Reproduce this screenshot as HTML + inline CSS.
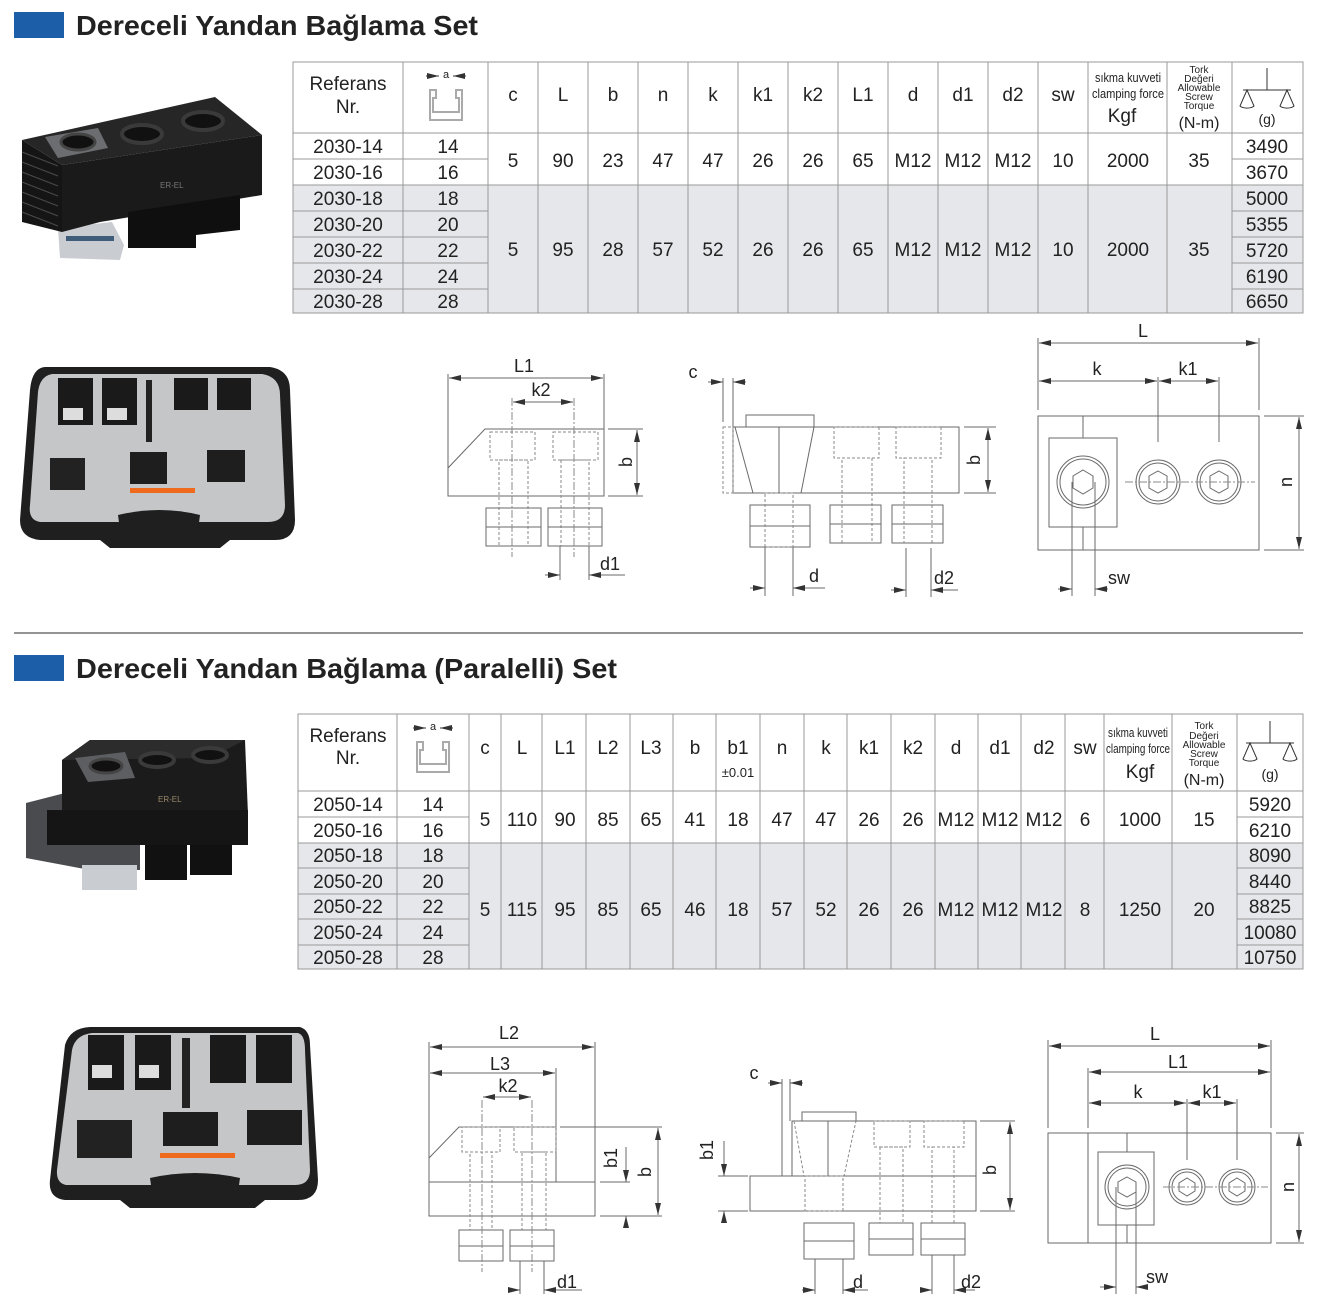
<!DOCTYPE html>
<html><head><meta charset="utf-8"><style>
html,body{margin:0;padding:0;background:#fff;}
svg{display:block;}
text{font-family:"Liberation Sans",Arial,sans-serif;fill:#222;}
.t{font-size:19px;text-anchor:middle;}
.h{font-size:19px;text-anchor:middle;}
.s{font-size:11px;text-anchor:middle;}
.dl{font-size:18px;text-anchor:middle;}
.g line,.g rect,.g polyline,.g polygon,.g circle,.g path{stroke:#6a6a6a;stroke-width:1;fill:none;}
.g .d{stroke-dasharray:3,2;stroke:#8a8a8a;}
.g .c{stroke-dasharray:8,2,2,2;stroke:#8a8a8a;}
</style></head><body>
<svg width="1322" height="1304" viewBox="0 0 1322 1304" xmlns="http://www.w3.org/2000/svg">
<defs>
<marker id="a" viewBox="0 0 12 6" refX="12" refY="3" markerWidth="12" markerHeight="6" orient="auto-start-reverse" markerUnits="userSpaceOnUse"><path d="M0,0L12,3L0,6z" fill="#333"/></marker>
</defs>

<!-- Titles -->
<rect x="14" y="12" width="50" height="26" fill="#1c5fa8"/>
<text x="76" y="35" font-size="28" font-weight="bold" textLength="402" lengthAdjust="spacingAndGlyphs">Dereceli Yandan Bağlama Set</text>
<line x1="14" y1="633" x2="1303" y2="633" stroke="#555" stroke-width="1.2"/>
<rect x="14" y="655" width="50" height="26" fill="#1c5fa8"/>
<text x="76" y="678" font-size="28" font-weight="bold" textLength="541" lengthAdjust="spacingAndGlyphs">Dereceli Yandan Bağlama (Paralelli) Set</text>

<!-- TABLE 1 -->
<rect x="293" y="185" width="1010" height="128" fill="#e6e7eb"/>
<g stroke="#999" stroke-width="1">
<rect x="293" y="62" width="1010" height="251" fill="none"/>
<line x1="293" y1="133" x2="1303" y2="133"/>
<line x1="293" y1="185" x2="1303" y2="185"/>
<line x1="293" y1="159" x2="488" y2="159"/><line x1="1232" y1="159" x2="1303" y2="159"/>
<line x1="293" y1="211" x2="488" y2="211"/><line x1="1232" y1="211" x2="1303" y2="211"/>
<line x1="293" y1="237" x2="488" y2="237"/><line x1="1232" y1="237" x2="1303" y2="237"/>
<line x1="293" y1="263" x2="488" y2="263"/><line x1="1232" y1="263" x2="1303" y2="263"/>
<line x1="293" y1="289" x2="488" y2="289"/><line x1="1232" y1="289" x2="1303" y2="289"/>
<line x1="403" y1="62" x2="403" y2="313"/><line x1="488" y1="62" x2="488" y2="313"/>
<line x1="538" y1="62" x2="538" y2="313"/><line x1="588" y1="62" x2="588" y2="313"/>
<line x1="638" y1="62" x2="638" y2="313"/><line x1="688" y1="62" x2="688" y2="313"/>
<line x1="738" y1="62" x2="738" y2="313"/><line x1="788" y1="62" x2="788" y2="313"/>
<line x1="838" y1="62" x2="838" y2="313"/><line x1="888" y1="62" x2="888" y2="313"/>
<line x1="938" y1="62" x2="938" y2="313"/><line x1="988" y1="62" x2="988" y2="313"/>
<line x1="1038" y1="62" x2="1038" y2="313"/><line x1="1088" y1="62" x2="1088" y2="313"/>
<line x1="1167" y1="62" x2="1167" y2="313"/><line x1="1232" y1="62" x2="1232" y2="313"/>
</g>
<text class="h" x="348" y="90">Referans</text><text class="h" x="348" y="113">Nr.</text>
<g transform="translate(446,70)">
<text class="s" x="0" y="8">a</text>
<line x1="-20" y1="6" x2="-7" y2="6" stroke="#333" marker-end="url(#a)"/><line x1="20" y1="6" x2="7" y2="6" stroke="#333" marker-end="url(#a)"/>
<path d="M-16,20 h6 v8 h-3 v14 h26 v-14 h-3 v-8 h6 v30 h-32 z" fill="none" stroke="#aaa" stroke-width="2"/>
</g>
<text class="h" x="513" y="101">c</text><text class="h" x="563" y="101">L</text><text class="h" x="613" y="101">b</text>
<text class="h" x="663" y="101">n</text><text class="h" x="713" y="101">k</text><text class="h" x="763" y="101">k1</text>
<text class="h" x="813" y="101">k2</text><text class="h" x="863" y="101">L1</text><text class="h" x="913" y="101">d</text>
<text class="h" x="963" y="101">d1</text><text class="h" x="1013" y="101">d2</text><text class="h" x="1063" y="101">sw</text>
<text x="1128" y="82" font-size="13" text-anchor="middle" textLength="66" lengthAdjust="spacingAndGlyphs">sıkma kuvveti</text>
<text x="1128" y="98" font-size="13" text-anchor="middle" textLength="72" lengthAdjust="spacingAndGlyphs">clamping force</text>
<text class="h" x="1122" y="122">Kgf</text>
<text x="1199" y="73" font-size="10" text-anchor="middle">Tork</text>
<text x="1199" y="82" font-size="10" text-anchor="middle">Değeri</text>
<text x="1199" y="91" font-size="10" text-anchor="middle">Allowable</text>
<text x="1199" y="100" font-size="10" text-anchor="middle">Screw</text>
<text x="1199" y="109" font-size="10" text-anchor="middle">Torque</text>
<text x="1199" y="128" font-size="16" text-anchor="middle">(N-m)</text>
<g transform="translate(1267,68)" stroke="#333" fill="none" stroke-width="1">
<line x1="0" y1="0" x2="0" y2="22"/><line x1="-24" y1="22" x2="24" y2="22"/>
<path d="M-20,22 L-27,38 A8,4 0 0,0 -13,38 Z M20,22 L13,38 A8,4 0 0,0 27,38 Z"/>
<text x="0" y="56" font-size="14" text-anchor="middle" stroke="none" fill="#222">(g)</text>
</g>
<text class="t" x="348" y="153">2030-14</text><text class="t" x="448" y="153">14</text>
<text class="t" x="348" y="179">2030-16</text><text class="t" x="448" y="179">16</text>
<text class="t" x="348" y="205">2030-18</text><text class="t" x="448" y="205">18</text>
<text class="t" x="348" y="231">2030-20</text><text class="t" x="448" y="231">20</text>
<text class="t" x="348" y="257">2030-22</text><text class="t" x="448" y="257">22</text>
<text class="t" x="348" y="283">2030-24</text><text class="t" x="448" y="283">24</text>
<text class="t" x="348" y="308">2030-28</text><text class="t" x="448" y="308">28</text>
<text class="t" x="1267" y="153">3490</text><text class="t" x="1267" y="179">3670</text>
<text class="t" x="1267" y="205">5000</text><text class="t" x="1267" y="231">5355</text>
<text class="t" x="1267" y="257">5720</text><text class="t" x="1267" y="283">6190</text>
<text class="t" x="1267" y="308">6650</text>
<text class="t" x="513" y="167">5</text><text class="t" x="563" y="167">90</text><text class="t" x="613" y="167">23</text>
<text class="t" x="663" y="167">47</text><text class="t" x="713" y="167">47</text><text class="t" x="763" y="167">26</text>
<text class="t" x="813" y="167">26</text><text class="t" x="863" y="167">65</text><text class="t" x="913" y="167">M12</text>
<text class="t" x="963" y="167">M12</text><text class="t" x="1013" y="167">M12</text><text class="t" x="1063" y="167">10</text>
<text class="t" x="1128" y="167">2000</text><text class="t" x="1199" y="167">35</text>
<text class="t" x="513" y="256">5</text><text class="t" x="563" y="256">95</text><text class="t" x="613" y="256">28</text>
<text class="t" x="663" y="256">57</text><text class="t" x="713" y="256">52</text><text class="t" x="763" y="256">26</text>
<text class="t" x="813" y="256">26</text><text class="t" x="863" y="256">65</text><text class="t" x="913" y="256">M12</text>
<text class="t" x="963" y="256">M12</text><text class="t" x="1013" y="256">M12</text><text class="t" x="1063" y="256">10</text>
<text class="t" x="1128" y="256">2000</text><text class="t" x="1199" y="256">35</text>

<!-- TABLE 2 -->
<rect x="298" y="843" width="1005" height="126" fill="#e6e7eb"/>
<g stroke="#999" stroke-width="1">
<rect x="298" y="714" width="1005" height="255" fill="none"/>
<line x1="298" y1="791" x2="1303" y2="791"/><line x1="298" y1="843" x2="1303" y2="843"/>
<line x1="298" y1="817" x2="469" y2="817"/><line x1="1237" y1="817" x2="1303" y2="817"/>
<line x1="298" y1="868" x2="469" y2="868"/><line x1="1237" y1="868" x2="1303" y2="868"/>
<line x1="298" y1="894" x2="469" y2="894"/><line x1="1237" y1="894" x2="1303" y2="894"/>
<line x1="298" y1="919" x2="469" y2="919"/><line x1="1237" y1="919" x2="1303" y2="919"/>
<line x1="298" y1="945" x2="469" y2="945"/><line x1="1237" y1="945" x2="1303" y2="945"/>
<line x1="397" y1="714" x2="397" y2="969"/><line x1="469" y1="714" x2="469" y2="969"/>
<line x1="501" y1="714" x2="501" y2="969"/><line x1="542" y1="714" x2="542" y2="969"/>
<line x1="586" y1="714" x2="586" y2="969"/><line x1="630" y1="714" x2="630" y2="969"/>
<line x1="673" y1="714" x2="673" y2="969"/><line x1="716" y1="714" x2="716" y2="969"/>
<line x1="760" y1="714" x2="760" y2="969"/><line x1="804" y1="714" x2="804" y2="969"/>
<line x1="847" y1="714" x2="847" y2="969"/><line x1="891" y1="714" x2="891" y2="969"/>
<line x1="935" y1="714" x2="935" y2="969"/><line x1="978" y1="714" x2="978" y2="969"/>
<line x1="1021" y1="714" x2="1021" y2="969"/><line x1="1065" y1="714" x2="1065" y2="969"/>
<line x1="1104" y1="714" x2="1104" y2="969"/><line x1="1172" y1="714" x2="1172" y2="969"/>
<line x1="1237" y1="714" x2="1237" y2="969"/>
</g>
<text class="h" x="348" y="742">Referans</text><text class="h" x="348" y="764">Nr.</text>
<g transform="translate(433,722)">
<text class="s" x="0" y="8">a</text>
<line x1="-20" y1="6" x2="-7" y2="6" stroke="#333" marker-end="url(#a)"/><line x1="20" y1="6" x2="7" y2="6" stroke="#333" marker-end="url(#a)"/>
<path d="M-16,20 h6 v8 h-3 v14 h26 v-14 h-3 v-8 h6 v30 h-32 z" fill="none" stroke="#aaa" stroke-width="2"/>
</g>
<text class="h" x="485" y="754">c</text><text class="h" x="522" y="754">L</text><text class="h" x="565" y="754">L1</text>
<text class="h" x="608" y="754">L2</text><text class="h" x="651" y="754">L3</text><text class="h" x="695" y="754">b</text>
<text class="h" x="738" y="754">b1</text><text x="738" y="777" font-size="13" text-anchor="middle">±0.01</text>
<text class="h" x="782" y="754">n</text><text class="h" x="826" y="754">k</text><text class="h" x="869" y="754">k1</text>
<text class="h" x="913" y="754">k2</text><text class="h" x="956" y="754">d</text><text class="h" x="1000" y="754">d1</text>
<text class="h" x="1044" y="754">d2</text><text class="h" x="1085" y="754">sw</text>
<text x="1138" y="737" font-size="13" text-anchor="middle" textLength="60" lengthAdjust="spacingAndGlyphs">sıkma kuvveti</text>
<text x="1138" y="753" font-size="13" text-anchor="middle" textLength="64" lengthAdjust="spacingAndGlyphs">clamping force</text>
<text class="h" x="1140" y="778">Kgf</text>
<text x="1204" y="729" font-size="10" text-anchor="middle">Tork</text>
<text x="1204" y="739" font-size="10" text-anchor="middle">Değeri</text>
<text x="1204" y="748" font-size="10" text-anchor="middle">Allowable</text>
<text x="1204" y="757" font-size="10" text-anchor="middle">Screw</text>
<text x="1204" y="766" font-size="10" text-anchor="middle">Torque</text>
<text x="1204" y="785" font-size="16" text-anchor="middle">(N-m)</text>
<g transform="translate(1270,721)" stroke="#333" fill="none" stroke-width="1">
<line x1="0" y1="0" x2="0" y2="22"/><line x1="-24" y1="22" x2="24" y2="22"/>
<path d="M-20,22 L-27,38 A8,4 0 0,0 -13,38 Z M20,22 L13,38 A8,4 0 0,0 27,38 Z"/>
<text x="0" y="58" font-size="14" text-anchor="middle" stroke="none" fill="#222">(g)</text>
</g>
<text class="t" x="348" y="811">2050-14</text><text class="t" x="433" y="811">14</text>
<text class="t" x="348" y="837">2050-16</text><text class="t" x="433" y="837">16</text>
<text class="t" x="348" y="862">2050-18</text><text class="t" x="433" y="862">18</text>
<text class="t" x="348" y="888">2050-20</text><text class="t" x="433" y="888">20</text>
<text class="t" x="348" y="913">2050-22</text><text class="t" x="433" y="913">22</text>
<text class="t" x="348" y="939">2050-24</text><text class="t" x="433" y="939">24</text>
<text class="t" x="348" y="964">2050-28</text><text class="t" x="433" y="964">28</text>
<text class="t" x="1270" y="811">5920</text><text class="t" x="1270" y="837">6210</text>
<text class="t" x="1270" y="862">8090</text><text class="t" x="1270" y="888">8440</text>
<text class="t" x="1270" y="913">8825</text><text class="t" x="1270" y="939">10080</text>
<text class="t" x="1270" y="964">10750</text>
<text class="t" x="485" y="826">5</text><text class="t" x="522" y="826">110</text><text class="t" x="565" y="826">90</text>
<text class="t" x="608" y="826">85</text><text class="t" x="651" y="826">65</text><text class="t" x="695" y="826">41</text>
<text class="t" x="738" y="826">18</text><text class="t" x="782" y="826">47</text><text class="t" x="826" y="826">47</text>
<text class="t" x="869" y="826">26</text><text class="t" x="913" y="826">26</text><text class="t" x="956" y="826">M12</text>
<text class="t" x="1000" y="826">M12</text><text class="t" x="1044" y="826">M12</text><text class="t" x="1085" y="826">6</text>
<text class="t" x="1140" y="826">1000</text><text class="t" x="1204" y="826">15</text>
<text class="t" x="485" y="916">5</text><text class="t" x="522" y="916">115</text><text class="t" x="565" y="916">95</text>
<text class="t" x="608" y="916">85</text><text class="t" x="651" y="916">65</text><text class="t" x="695" y="916">46</text>
<text class="t" x="738" y="916">18</text><text class="t" x="782" y="916">57</text><text class="t" x="826" y="916">52</text>
<text class="t" x="869" y="916">26</text><text class="t" x="913" y="916">26</text><text class="t" x="956" y="916">M12</text>
<text class="t" x="1000" y="916">M12</text><text class="t" x="1044" y="916">M12</text><text class="t" x="1085" y="916">8</text>
<text class="t" x="1140" y="916">1250</text><text class="t" x="1204" y="916">20</text>

<!-- PHOTO 1 product -->
<g>
<polygon points="58,228 112,222 124,245 120,260 60,258" fill="#c9ccd1"/>
<rect x="66" y="236" width="48" height="5" fill="#3f5d7a"/>
<polygon points="22,140 215,97 262,135 62,165" fill="#262626"/>
<polygon points="22,140 62,165 62,232 22,222" fill="#151515"/>
<g stroke="#4a4a4a" stroke-width="1"><line x1="22" y1="152" x2="58" y2="166"/><line x1="22" y1="162" x2="58" y2="176"/><line x1="22" y1="172" x2="58" y2="186"/><line x1="22" y1="182" x2="58" y2="196"/><line x1="22" y1="192" x2="58" y2="206"/><line x1="22" y1="202" x2="58" y2="216"/><line x1="22" y1="212" x2="58" y2="226"/></g>
<polygon points="62,165 262,135 262,195 100,222 62,232" fill="#1a1a1a"/>
<polygon points="128,212 240,195 240,230 196,235 196,248 128,248" fill="#0f0f0f"/>
<polygon points="45,137 98,128 108,148 58,158" fill="#6b6d70"/>
<ellipse cx="78" cy="142" rx="17" ry="8" fill="#111" stroke="#444" stroke-width="3"/>
<ellipse cx="142" cy="134" rx="20" ry="9" fill="#111" stroke="#3a3a3a" stroke-width="4"/>
<ellipse cx="203" cy="121" rx="20" ry="9" fill="#111" stroke="#3a3a3a" stroke-width="4"/>
<text x="160" y="188" font-size="8" style="fill:#777">ER-EL</text>
</g>
<!-- CASE 1 -->
<g>
<path d="M45,367 L270,367 Q290,370 290,390 L295,520 Q295,540 275,540 L230,540 L220,548 L110,548 L100,540 L40,540 Q20,538 20,520 L30,390 Q32,368 45,367 Z" fill="#1f1f1f"/>
<path d="M52,374 L262,374 Q280,377 280,395 L285,505 Q285,522 268,522 L40,522 Q28,520 30,505 L38,392 Q40,376 52,374 Z" fill="#c4c6c8"/>
<rect x="58" y="378" width="35" height="47" fill="#1a1a1a"/><rect x="102" y="378" width="35" height="47" fill="#1a1a1a"/>
<rect x="63" y="408" width="20" height="12" fill="#ddd"/><rect x="107" y="408" width="20" height="12" fill="#ddd"/>
<rect x="174" y="378" width="34" height="32" fill="#1a1a1a"/><rect x="217" y="378" width="34" height="32" fill="#1a1a1a"/>
<rect x="146" y="380" width="6" height="62" fill="#222"/>
<rect x="50" y="458" width="35" height="32" fill="#222"/><rect x="130" y="452" width="37" height="32" fill="#1e1e1e"/><rect x="207" y="450" width="38" height="32" fill="#1e1e1e"/>
<rect x="130" y="488" width="65" height="5" fill="#f06a1e"/>
<path d="M118,515 Q160,505 200,515 L198,530 L120,530 Z" fill="#1f1f1f"/>
</g>
<!-- PHOTO 2 product -->
<g>
<polygon points="26,803 65,793 140,793 140,870 90,870 26,858" fill="#494b4e"/>
<rect x="82" y="865" width="55" height="25" fill="#c9ccd1"/>
<polygon points="62,760 90,740 245,740 248,815 140,840 62,830" fill="#1b1b1b"/>
<polygon points="62,760 90,740 245,740 210,758" fill="#2c2c2c"/>
<polygon points="47,810 248,810 248,845 47,845" fill="#151515"/>
<rect x="145" y="845" width="42" height="35" fill="#111"/><rect x="190" y="845" width="42" height="30" fill="#111"/>
<polygon points="75,758 125,752 135,778 88,782" fill="#5c5e61"/>
<ellipse cx="106" cy="766" rx="16" ry="7" fill="#111" stroke="#444" stroke-width="3"/>
<ellipse cx="157" cy="760" rx="17" ry="7" fill="#111" stroke="#3a3a3a" stroke-width="4"/>
<ellipse cx="210" cy="755" rx="17" ry="7" fill="#111" stroke="#3a3a3a" stroke-width="4"/>
<text x="158" y="802" font-size="8" style="fill:#9a8a6a">ER-EL</text>
</g>
<!-- CASE 2 -->
<g>
<path d="M90,1027 L300,1027 Q310,1030 310,1045 L318,1180 Q318,1200 298,1200 L265,1200 L255,1208 L130,1208 L120,1200 L65,1200 Q48,1198 50,1180 L65,1045 Q70,1028 90,1027 Z" fill="#1f1f1f"/>
<path d="M92,1033 L298,1033 Q305,1035 305,1050 L310,1170 Q310,1185 295,1185 L66,1185 Q56,1183 57,1170 L72,1050 Q75,1035 92,1033 Z" fill="#c4c6c8"/>
<rect x="88" y="1035" width="36" height="55" fill="#1a1a1a"/><rect x="135" y="1035" width="36" height="55" fill="#1a1a1a"/>
<rect x="92" y="1065" width="20" height="13" fill="#ddd"/><rect x="139" y="1065" width="20" height="13" fill="#ddd"/>
<rect x="210" y="1035" width="36" height="48" fill="#1a1a1a"/><rect x="256" y="1035" width="36" height="48" fill="#1a1a1a"/>
<rect x="182" y="1038" width="8" height="70" fill="#222"/>
<rect x="77" y="1120" width="55" height="38" fill="#222"/><rect x="163" y="1112" width="55" height="34" fill="#1e1e1e"/><rect x="247" y="1110" width="55" height="35" fill="#1e1e1e"/>
<rect x="160" y="1153" width="75" height="5" fill="#f06a1e"/>
<path d="M150,1178 Q195,1168 240,1178 L238,1192 L152,1192 Z" fill="#1f1f1f"/>
</g>

<!-- DRAWINGS -->
<g class="g">
<!-- D1 -->
<line x1="448" y1="374" x2="448" y2="468"/><line x1="604" y1="374" x2="604" y2="429"/>
<line x1="449" y1="378" x2="603" y2="378" marker-start="url(#a)" marker-end="url(#a)"/>
<line x1="513" y1="402" x2="573" y2="402" marker-start="url(#a)" marker-end="url(#a)"/>
<polygon points="485,429 604,429 604,496 448,496 448,468"/>
<rect class="d" x="490" y="432" width="45" height="28"/><rect class="d" x="553" y="432" width="45" height="28"/>
<rect class="d" x="499" y="460" width="29" height="86"/><rect class="d" x="561" y="460" width="28" height="86"/>
<rect x="486" y="508" width="55" height="38"/><rect x="548" y="508" width="54" height="38"/>
<line x1="486" y1="527" x2="541" y2="527"/><line x1="548" y1="527" x2="602" y2="527"/>
<line class="c" x1="512" y1="398" x2="512" y2="557"/><line class="c" x1="574" y1="398" x2="574" y2="557"/>
<line x1="608" y1="429" x2="643" y2="429"/><line x1="608" y1="496" x2="643" y2="496"/>
<line x1="637" y1="430" x2="637" y2="495" marker-start="url(#a)" marker-end="url(#a)"/>
<line x1="560" y1="546" x2="560" y2="580"/><line x1="589" y1="546" x2="589" y2="580"/>
<line x1="545" y1="575" x2="560" y2="575" marker-end="url(#a)"/><line x1="625" y1="575" x2="589" y2="575" marker-end="url(#a)"/>
<!-- D2 -->
<line x1="723" y1="378" x2="723" y2="422"/><line x1="733" y1="378" x2="733" y2="427"/>
<line x1="708" y1="382" x2="723" y2="382" marker-end="url(#a)"/><line x1="746" y1="382" x2="733" y2="382" marker-end="url(#a)"/>
<rect x="733" y="427" width="226" height="66"/>
<rect class="d" x="723" y="427" width="10" height="66"/>
<rect x="746" y="415" width="68" height="12"/>
<polyline points="735,427 753,493 801,493 814,427"/>
<line x1="779" y1="427" x2="779" y2="493"/>
<rect class="d" x="834" y="427" width="45" height="31"/><rect class="d" x="896" y="427" width="45" height="31"/>
<rect class="d" x="842" y="458" width="30" height="85"/><rect class="d" x="904" y="458" width="28" height="85"/>
<rect x="750" y="505" width="60" height="42"/><rect x="830" y="505" width="51" height="38"/><rect x="892" y="505" width="51" height="38"/>
<line x1="750" y1="526" x2="810" y2="526"/><line x1="830" y1="524" x2="881" y2="524"/><line x1="892" y1="524" x2="943" y2="524"/>
<rect class="d" x="765" y="493" width="28" height="54"/>
<line x1="964" y1="427" x2="996" y2="427"/><line x1="964" y1="493" x2="996" y2="493"/>
<line x1="988" y1="428" x2="988" y2="492" marker-start="url(#a)" marker-end="url(#a)"/>
<line x1="765" y1="547" x2="765" y2="596"/><line x1="793" y1="547" x2="793" y2="596"/>
<line x1="750" y1="588" x2="765" y2="588" marker-end="url(#a)"/><line x1="825" y1="588" x2="793" y2="588" marker-end="url(#a)"/>
<line x1="906" y1="548" x2="906" y2="597"/><line x1="931" y1="548" x2="931" y2="597"/>
<line x1="891" y1="590" x2="906" y2="590" marker-end="url(#a)"/><line x1="958" y1="590" x2="931" y2="590" marker-end="url(#a)"/>
<!-- D3 -->
<line x1="1038" y1="338" x2="1038" y2="410"/><line x1="1259" y1="338" x2="1259" y2="410"/>
<line x1="1039" y1="343" x2="1258" y2="343" marker-start="url(#a)" marker-end="url(#a)"/>
<line x1="1039" y1="381" x2="1157" y2="381" marker-start="url(#a)" marker-end="url(#a)"/>
<line x1="1159" y1="381" x2="1218" y2="381" marker-start="url(#a)" marker-end="url(#a)"/>
<line x1="1158" y1="377" x2="1158" y2="442"/><line x1="1219" y1="377" x2="1219" y2="442"/>
<rect x="1038" y="416" width="221" height="134"/>
<rect x="1049" y="438" width="68" height="89"/>
<line x1="1083" y1="416" x2="1083" y2="438"/><line x1="1083" y1="527" x2="1083" y2="550"/>
<circle cx="1083" cy="482" r="26" stroke-width="2"/><circle cx="1083" cy="482" r="23"/>
<polygon points="1083,470 1093,476 1093,488 1083,494 1073,488 1073,476"/>
<circle cx="1158" cy="482" r="22" stroke-width="1.5"/><circle cx="1158" cy="482" r="19"/>
<polygon points="1158,471 1167,476 1167,488 1158,493 1149,488 1149,476"/>
<circle cx="1219" cy="482" r="22" stroke-width="1.5"/><circle cx="1219" cy="482" r="19"/>
<polygon points="1219,471 1228,476 1228,488 1219,493 1210,488 1210,476"/>
<line class="c" x1="1125" y1="482" x2="1255" y2="482"/>
<line x1="1264" y1="416" x2="1304" y2="416"/><line x1="1264" y1="550" x2="1304" y2="550"/>
<line x1="1299" y1="417" x2="1299" y2="549" marker-start="url(#a)" marker-end="url(#a)"/>
<line x1="1072" y1="482" x2="1072" y2="596"/><line x1="1095" y1="482" x2="1095" y2="596"/>
<line x1="1058" y1="589" x2="1072" y2="589" marker-end="url(#a)"/><line x1="1108" y1="589" x2="1095" y2="589" marker-end="url(#a)"/>
<!-- D4 -->
<line x1="429" y1="1042" x2="429" y2="1158"/><line x1="595" y1="1042" x2="595" y2="1182"/><line x1="556" y1="1068" x2="556" y2="1127"/>
<line x1="430" y1="1047" x2="594" y2="1047" marker-start="url(#a)" marker-end="url(#a)"/>
<line x1="430" y1="1073" x2="555" y2="1073" marker-start="url(#a)" marker-end="url(#a)"/>
<line x1="483" y1="1097" x2="531" y2="1097" marker-start="url(#a)" marker-end="url(#a)"/>
<polygon points="459,1127 556,1127 556,1182 429,1182 429,1158"/>
<rect x="429" y="1182" width="166" height="34"/>
<rect class="d" x="462" y="1127" width="38" height="25"/><rect class="d" x="514" y="1127" width="42" height="25"/>
<rect class="d" x="470" y="1152" width="22" height="78"/><rect class="d" x="522" y="1152" width="24" height="78"/>
<rect x="459" y="1230" width="44" height="31"/><rect x="510" y="1230" width="44" height="31"/>
<line x1="459" y1="1246" x2="503" y2="1246"/><line x1="510" y1="1246" x2="554" y2="1246"/>
<line class="c" x1="482" y1="1100" x2="482" y2="1272"/><line class="c" x1="532" y1="1100" x2="532" y2="1272"/>
<line x1="560" y1="1127" x2="662" y2="1127"/><line x1="600" y1="1182" x2="630" y2="1182"/><line x1="600" y1="1216" x2="662" y2="1216"/>
<line x1="626" y1="1147" x2="626" y2="1182" marker-end="url(#a)"/><line x1="626" y1="1226" x2="626" y2="1216" marker-end="url(#a)"/>
<line x1="658" y1="1128" x2="658" y2="1215" marker-start="url(#a)" marker-end="url(#a)"/>
<line x1="520" y1="1261" x2="520" y2="1294"/><line x1="544" y1="1261" x2="544" y2="1294"/>
<line x1="508" y1="1290" x2="520" y2="1290" marker-end="url(#a)"/><line x1="582" y1="1290" x2="544" y2="1290" marker-end="url(#a)"/>
<!-- D5 -->
<line x1="782" y1="1079" x2="782" y2="1176"/><line x1="790" y1="1079" x2="790" y2="1121"/>
<line x1="768" y1="1083" x2="782" y2="1083" marker-end="url(#a)"/><line x1="803" y1="1083" x2="790" y2="1083" marker-end="url(#a)"/>
<rect x="792" y="1121" width="184" height="55"/>
<rect x="802" y="1112" width="54" height="9"/>
<polyline class="d" points="794,1121 804,1176 844,1176 856,1121"/>
<line x1="828" y1="1121" x2="828" y2="1176"/>
<rect x="750" y="1176" width="226" height="35"/>
<rect class="d" x="874" y="1121" width="36" height="26"/><rect class="d" x="924" y="1121" width="40" height="26"/>
<rect class="d" x="880" y="1147" width="23" height="76"/><rect class="d" x="932" y="1147" width="22" height="76"/>
<rect class="d" x="805" y="1176" width="38" height="35"/>
<rect x="804" y="1223" width="50" height="36"/><rect x="869" y="1223" width="44" height="32"/><rect x="921" y="1223" width="44" height="32"/>
<line x1="804" y1="1241" x2="854" y2="1241"/><line x1="869" y1="1239" x2="913" y2="1239"/><line x1="921" y1="1239" x2="965" y2="1239"/>
<line x1="980" y1="1121" x2="1015" y2="1121"/><line x1="980" y1="1211" x2="1015" y2="1211"/>
<line x1="1010" y1="1122" x2="1010" y2="1210" marker-start="url(#a)" marker-end="url(#a)"/>
<line x1="718" y1="1176" x2="748" y2="1176"/><line x1="718" y1="1211" x2="748" y2="1211"/>
<line x1="724" y1="1141" x2="724" y2="1176" marker-end="url(#a)"/><line x1="724" y1="1222" x2="724" y2="1211" marker-end="url(#a)"/>
<line x1="815" y1="1259" x2="815" y2="1294"/><line x1="843" y1="1259" x2="843" y2="1294"/>
<line x1="802" y1="1290" x2="815" y2="1290" marker-end="url(#a)"/><line x1="868" y1="1290" x2="843" y2="1290" marker-end="url(#a)"/>
<line x1="932" y1="1255" x2="932" y2="1294"/><line x1="954" y1="1255" x2="954" y2="1294"/>
<line x1="920" y1="1290" x2="932" y2="1290" marker-end="url(#a)"/><line x1="975" y1="1290" x2="954" y2="1290" marker-end="url(#a)"/>
<!-- D6 -->
<line x1="1048" y1="1040" x2="1048" y2="1128"/><line x1="1271" y1="1040" x2="1271" y2="1128"/><line x1="1088" y1="1068" x2="1088" y2="1128"/>
<line x1="1049" y1="1046" x2="1270" y2="1046" marker-start="url(#a)" marker-end="url(#a)"/>
<line x1="1089" y1="1072" x2="1270" y2="1072" marker-start="url(#a)" marker-end="url(#a)"/>
<line x1="1089" y1="1103" x2="1186" y2="1103" marker-start="url(#a)" marker-end="url(#a)"/>
<line x1="1188" y1="1103" x2="1236" y2="1103" marker-start="url(#a)" marker-end="url(#a)"/>
<line x1="1187" y1="1099" x2="1187" y2="1160"/><line x1="1237" y1="1099" x2="1237" y2="1160"/>
<rect x="1048" y="1133" width="223" height="110"/>
<line x1="1088" y1="1133" x2="1088" y2="1243"/>
<rect x="1098" y="1152" width="56" height="73"/>
<line x1="1127" y1="1133" x2="1127" y2="1152"/><line x1="1127" y1="1225" x2="1127" y2="1243"/>
<circle cx="1127" cy="1187" r="22" stroke-width="2"/><circle cx="1127" cy="1187" r="19"/>
<polygon points="1127,1177 1136,1182 1136,1192 1127,1197 1118,1192 1118,1182"/>
<circle cx="1187" cy="1187" r="18" stroke-width="1.5"/><circle cx="1187" cy="1187" r="15"/>
<polygon points="1187,1178 1195,1183 1195,1191 1187,1196 1179,1191 1179,1183"/>
<circle cx="1237" cy="1187" r="18" stroke-width="1.5"/><circle cx="1237" cy="1187" r="15"/>
<polygon points="1237,1178 1245,1183 1245,1191 1237,1196 1229,1191 1229,1183"/>
<line class="c" x1="1163" y1="1187" x2="1268" y2="1187"/>
<line x1="1276" y1="1133" x2="1304" y2="1133"/><line x1="1276" y1="1243" x2="1304" y2="1243"/>
<line x1="1299" y1="1134" x2="1299" y2="1242" marker-start="url(#a)" marker-end="url(#a)"/>
<line x1="1116" y1="1187" x2="1116" y2="1294"/><line x1="1136" y1="1187" x2="1136" y2="1294"/>
<line x1="1100" y1="1287" x2="1116" y2="1287" marker-end="url(#a)"/><line x1="1148" y1="1287" x2="1136" y2="1287" marker-end="url(#a)"/>
</g>
<!-- drawing labels -->
<text class="dl" x="524" y="372">L1</text><text class="dl" x="541" y="396">k2</text>
<text class="dl" transform="translate(632,462) rotate(-90)">b</text>
<text class="dl" x="610" y="570">d1</text>
<text class="dl" x="693" y="378">c</text>
<text class="dl" transform="translate(980,460) rotate(-90)">b</text>
<text class="dl" x="814" y="582">d</text><text class="dl" x="944" y="584">d2</text>
<text class="dl" x="1143" y="337">L</text><text class="dl" x="1097" y="375">k</text><text class="dl" x="1188" y="375">k1</text>
<text class="dl" transform="translate(1292,482) rotate(-90)">n</text>
<text class="dl" x="1119" y="584">sw</text>
<text class="dl" x="509" y="1039">L2</text><text class="dl" x="500" y="1070">L3</text><text class="dl" x="508" y="1092">k2</text>
<text class="dl" transform="translate(617,1158) rotate(-90)">b1</text>
<text class="dl" transform="translate(651,1172) rotate(-90)">b</text>
<text class="dl" x="567" y="1288">d1</text>
<text class="dl" x="754" y="1079">c</text>
<text class="dl" transform="translate(713,1150) rotate(-90)">b1</text>
<text class="dl" transform="translate(996,1170) rotate(-90)">b</text>
<text class="dl" x="858" y="1288">d</text><text class="dl" x="971" y="1288">d2</text>
<text class="dl" x="1155" y="1040">L</text><text class="dl" x="1178" y="1068">L1</text>
<text class="dl" x="1138" y="1098">k</text><text class="dl" x="1212" y="1098">k1</text>
<text class="dl" transform="translate(1294,1187) rotate(-90)">n</text>
<text class="dl" x="1157" y="1283">sw</text>
</svg>
</body></html>
